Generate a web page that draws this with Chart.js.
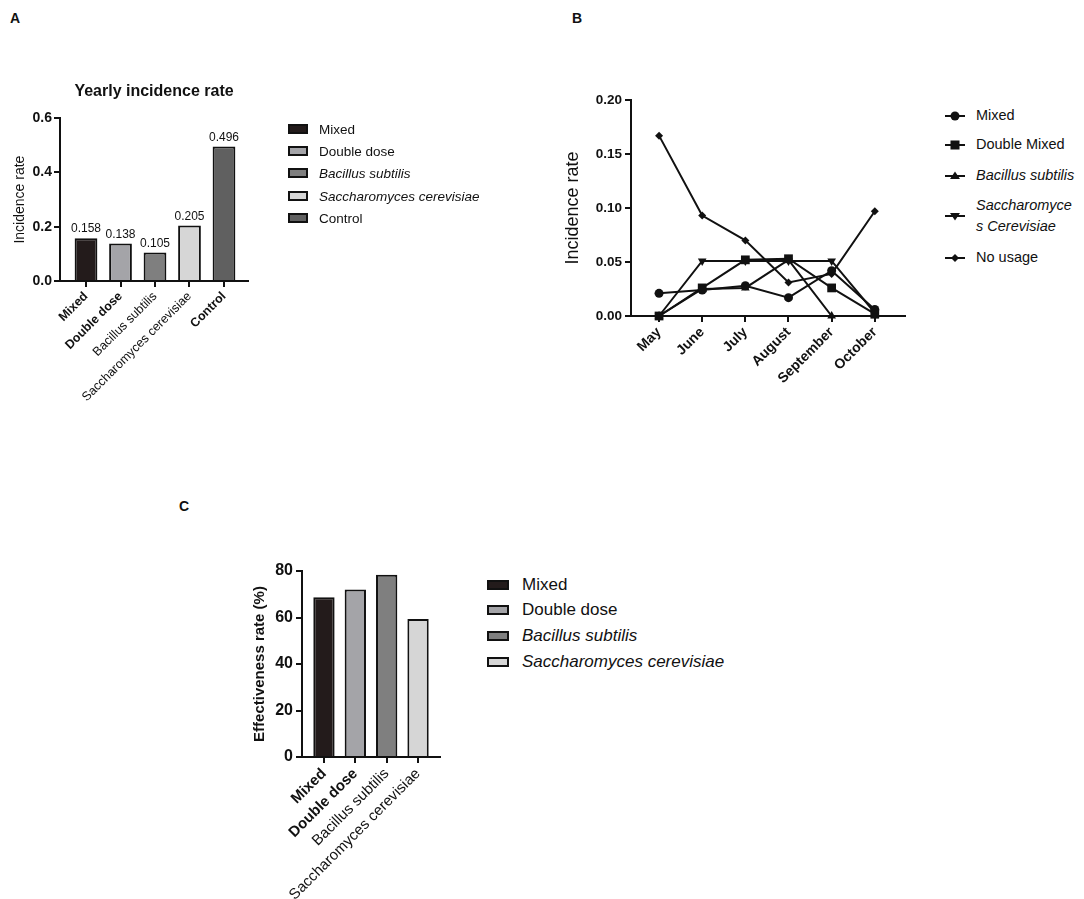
<!DOCTYPE html>
<html lang="en">
<head>
    <meta charset="UTF-8">
    <title>Incidence and effectiveness</title>
    <style>
        body { margin: 0; background: #fff; font-family: "Liberation Sans", Arial, sans-serif; color: #111; }
        #page { position: relative; width: 1084px; height: 899px; overflow: hidden; }
        .panel-label { position: absolute; font-weight: bold; font-size: 14px; }
        .box { position: absolute; }
        .legend { position: absolute; font-size: 13.5px; }
        .legend .row { position: absolute; left: 0; white-space: nowrap; display: flex; align-items: center; }
        .swatch { width: 16px; height: 6px; border: 2px solid #111; margin-right: 11px; }
        .legend.lines { font-size: 14.5px; }
        .legend.lines svg { margin-right: 11px; }
        .legend.big { font-size: 17px; }
        .legend.big .swatch { width: 18px; height: 6px; margin-right: 13px; }
    </style>
    <script src="https://cdn.jsdelivr.net/npm/chart.js"></script>
</head>
<body>
<div id="page">
    <div class="panel-label" style="left:10px; top:10px;">A</div>
    <div class="panel-label" style="left:572px; top:10px;">B</div>
    <div class="panel-label" style="left:179px; top:498px;">C</div>

    <div class="box" style="left:0; top:60px; width:310px; height:360px;"><canvas id="chartA"></canvas></div>
    <div class="box" style="left:540px; top:80px; width:380px; height:330px;"><canvas id="chartB"></canvas></div>
    <div class="box" style="left:230px; top:540px; width:230px; height:359px;"><canvas id="chartC"></canvas></div>

    <div class="legend" id="legendA" style="left:288px; top:0;"></div>
    <div class="legend lines" id="legendB" style="left:945px; top:0;"></div>
    <div class="legend big" id="legendC" style="left:487px; top:0;"></div>
</div>

<script>
    // --- data ---
    const groupsA = ['Mixed', 'Double dose', 'Bacillus subtilis', 'Saccharomyces cerevisiae', 'Control'];
    const yearlyRate = [0.158, 0.138, 0.105, 0.205, 0.496];
    const groupColors = ['#231b1b', '#a4a4a8', '#7f7f7f', '#d6d6d6', '#606060'];
    const boldGroups = ['Mixed', 'Double dose', 'Control'];
    const italicLegend = ['Bacillus subtilis', 'Saccharomyces cerevisiae'];

    const months = ['May', 'June', 'July', 'August', 'September', 'October'];
    const lineNames = ['Mixed', 'Double Mixed', 'Bacillus subtilis', 'Saccharomyces Cerevisiae', 'No usage'];
    const mixedMonthly = [0.021, 0.024, 0.028, 0.017, 0.042, 0.006];
    const doubleMonthly = [0, 0.026, 0.052, 0.053, 0.026, 0.002];
    const bacillusMonthly = [0, 0.025, 0.026, 0.052, 0, 0];
    const saccharoMonthly = [0, 0.051, 0.051, 0.051, 0.051, 0.003];
    const noUsageMonthly = [0.167, 0.093, 0.070, 0.031, 0.039, 0.097];

    const groupsC = ['Mixed', 'Double dose', 'Bacillus subtilis', 'Saccharomyces cerevisiae'];
    const effectiveness = [68.7, 72.0, 78.4, 59.4];

    const yTicksA = [0, 0.2, 0.4, 0.6];
    const yTicksB = [0, 0.05, 0.10, 0.15, 0.20];
    const yTicksC = [0, 20, 40, 60, 80];

    Chart.defaults.font.family = '"Liberation Sans", Arial, sans-serif';
    Chart.defaults.color = '#111';
    Chart.defaults.animation = false;

    const INK = '#111';

    function fixedWidth(w) { return scale => { scale.width = w; }; }
    function fixedHeight(h) { return scale => { scale.height = h; }; }

    function axisGrid() {
        return { drawOnChartArea: false, drawTicks: true, tickLength: 6, color: INK, lineWidth: 2, offset: false };
    }

    // category labels under a linear x axis, one per integer
    function categoryAxis(cats, min, max, height, fontFor) {
        return {
            type: 'linear', min: min, max: max, offset: false,
            grid: axisGrid(),
            border: { color: INK, width: 2 },
            ticks: {
                stepSize: 1, includeBounds: false, autoSkip: false,
                maxRotation: 45, minRotation: 45, padding: 2, color: INK,
                callback: v => Number.isInteger(v) ? cats[v] : '',
                font: fontFor
            },
            afterFit: fixedHeight(height)
        };
    }

    // value labels above the bars of panel A
    const barValues = {
        id: 'barValues',
        afterDatasetsDraw(chart) {
            const ctx = chart.ctx;
            const meta = chart.getDatasetMeta(0);
            ctx.save();
            ctx.font = '12px "Liberation Sans", Arial, sans-serif';
            ctx.fillStyle = INK;
            ctx.textAlign = 'center';
            ctx.textBaseline = 'bottom';
            meta.data.forEach((bar, i) => {
                ctx.fillText(yearlyRate[i].toFixed(3), bar.x, bar.y - 3);
            });
            ctx.restore();
        }
    };

    // Panel A
    new Chart(document.getElementById('chartA'), {
        type: 'bar',
        data: {
            datasets: [{
                data: yearlyRate.map((v, i) => ({ x: i, y: v })),
                backgroundColor: groupColors,
                borderColor: INK,
                borderWidth: 2,
                barPercentage: 0.66,
                categoryPercentage: 1
            }]
        },
        options: {
            responsive: true,
            maintainAspectRatio: false,
            layout: { padding: { right: 62 } },
            plugins: {
                legend: { display: false },
                tooltip: { enabled: false },
                title: {
                    display: true, fullSize: false,
                    text: 'Yearly incidence rate',
                    font: { size: 16, weight: 'bold' },
                    color: INK,
                    padding: { top: 22, bottom: 17 }
                }
            },
            scales: {
                x: categoryAxis(groupsA, -0.754, 4.696, 139, ctx => ({
                    size: 12.5,
                    weight: boldGroups.includes(groupsA[ctx.tick ? ctx.tick.value : 0]) ? 'bold' : 'normal'
                })),
                y: {
                    min: 0, max: 0.6,
                    grid: axisGrid(),
                    border: { color: INK, width: 2 },
                    afterBuildTicks: s => { s.ticks = yTicksA.map(v => ({ value: v })); },
                    ticks: { font: { size: 14, weight: 'bold' }, color: INK, padding: 2, callback: v => v.toFixed(1) },
                    title: { display: true, text: 'Incidence rate', font: { size: 14 }, color: INK, padding: { top: 12, bottom: 2 } },
                    afterFit: fixedWidth(60)
                }
            }
        },
        plugins: [barValues]
    });

    // Panel B
    const lineSeries = [mixedMonthly, doubleMonthly, bacillusMonthly, saccharoMonthly, noUsageMonthly];
    const markerStyles = [
        { pointStyle: 'circle', radius: 4.5, rotation: 0 },
        { pointStyle: 'rect', radius: 6.2, rotation: 0 },
        { pointStyle: 'triangle', radius: 5, rotation: 0 },
        { pointStyle: 'triangle', radius: 5, rotation: 180 },
        { pointStyle: 'rectRot', radius: 4, rotation: 0 }
    ];

    new Chart(document.getElementById('chartB'), {
        type: 'line',
        data: {
            datasets: lineSeries.map((vals, k) => ({
                label: lineNames[k],
                data: vals.map((v, i) => ({ x: i, y: v })),
                borderColor: INK,
                borderWidth: 2,
                backgroundColor: INK,
                pointBackgroundColor: INK,
                pointBorderColor: INK,
                pointBorderWidth: 0,
                pointStyle: markerStyles[k].pointStyle,
                pointRadius: markerStyles[k].radius,
                pointRotation: markerStyles[k].rotation,
                tension: 0,
                clip: false
            }))
        },
        options: {
            responsive: true,
            maintainAspectRatio: false,
            layout: { padding: { top: 20, right: 15 } },
            plugins: { legend: { display: false }, tooltip: { enabled: false } },
            scales: {
                x: categoryAxis(months, -0.65, 5.7, 94, () => ({ size: 14, weight: 'bold' })),
                y: {
                    min: 0, max: 0.2,
                    grid: axisGrid(),
                    border: { color: INK, width: 2 },
                    afterBuildTicks: s => { s.ticks = yTicksB.map(v => ({ value: v })); },
                    ticks: { font: { size: 13.5, weight: 'bold' }, color: INK, padding: 3, callback: v => v.toFixed(2) },
                    title: { display: true, text: 'Incidence rate', font: { size: 18 }, color: INK, padding: { top: 22, bottom: 4 } },
                    afterFit: fixedWidth(91)
                }
            }
        }
    });

    // Panel C
    new Chart(document.getElementById('chartC'), {
        type: 'bar',
        data: {
            datasets: [{
                data: effectiveness.map((v, i) => ({ x: i, y: v })),
                backgroundColor: groupColors.slice(0, 4),
                borderColor: INK,
                borderWidth: 2,
                barPercentage: 0.68,
                categoryPercentage: 1
            }]
        },
        options: {
            responsive: true,
            maintainAspectRatio: false,
            layout: { padding: { top: 31, right: 20 } },
            plugins: { legend: { display: false }, tooltip: { enabled: false } },
            scales: {
                x: categoryAxis(groupsC, -0.70, 3.70, 142, ctx => ({
                    size: 15,
                    weight: boldGroups.includes(groupsC[ctx.tick ? ctx.tick.value : 0]) ? 'bold' : 'normal'
                })),
                y: {
                    min: 0, max: 80,
                    grid: axisGrid(),
                    border: { color: INK, width: 2 },
                    afterBuildTicks: s => { s.ticks = yTicksC.map(v => ({ value: v })); },
                    ticks: { font: { size: 16, weight: 'bold' }, color: INK, padding: 3 },
                    title: { display: true, text: 'Effectiveness rate (%)', font: { size: 15, weight: 'bold' }, color: INK, padding: { top: 21, bottom: 4 } },
                    afterFit: fixedWidth(72)
                }
            }
        }
    });

    // --- legends ---
    function swatchLegend(id, names, rowsY) {
        const el = document.getElementById(id);
        names.forEach((name, i) => {
            const row = document.createElement('div');
            row.className = 'row';
            row.style.top = (rowsY[i] - 9) + 'px';
            row.style.height = '18px';
            const sw = document.createElement('span');
            sw.className = 'swatch';
            sw.style.background = groupColors[i];
            const tx = document.createElement('span');
            tx.textContent = name;
            if (italicLegend.includes(name)) tx.style.fontStyle = 'italic';
            row.appendChild(sw);
            row.appendChild(tx);
            el.appendChild(row);
        });
    }
    swatchLegend('legendA', groupsA, [129, 151, 173, 196, 218]);
    swatchLegend('legendC', groupsC, [585, 610, 636, 662]);

    const markerSvg = [
        '<circle cx="10" cy="7" r="4.5"/>',
        '<rect x="5.5" y="2.5" width="9" height="9"/>',
        '<polygon points="10,2.5 15,10 5,10"/>',
        '<polygon points="10,11.5 15,4 5,4"/>',
        '<polygon points="10,3 14,7 10,11 6,7"/>'
    ];
    const legendB = document.getElementById('legendB');
    const rowsB = [115, 144, 175, 216, 257];
    lineNames.forEach((name, i) => {
        const row = document.createElement('div');
        row.className = 'row';
        row.style.top = (rowsB[i] - (i === 3 ? 21 : 10)) + 'px';
        row.innerHTML = '<svg width="20" height="14" viewBox="0 0 20 14">' +
            '<line x1="0" y1="7" x2="20" y2="7" stroke="#111" stroke-width="2"/>' +
            '<g fill="#111">' + markerSvg[i] + '</g></svg>';
        const tx = document.createElement('span');
        tx.style.lineHeight = '21px';
        if (i === 3) {
            tx.innerHTML = 'Saccharomyce<br>s Cerevisiae';
        } else {
            tx.textContent = name;
        }
        if (i === 2 || i === 3) tx.style.fontStyle = 'italic';
        row.appendChild(tx);
        legendB.appendChild(row);
    });
</script>
</body>
</html>
